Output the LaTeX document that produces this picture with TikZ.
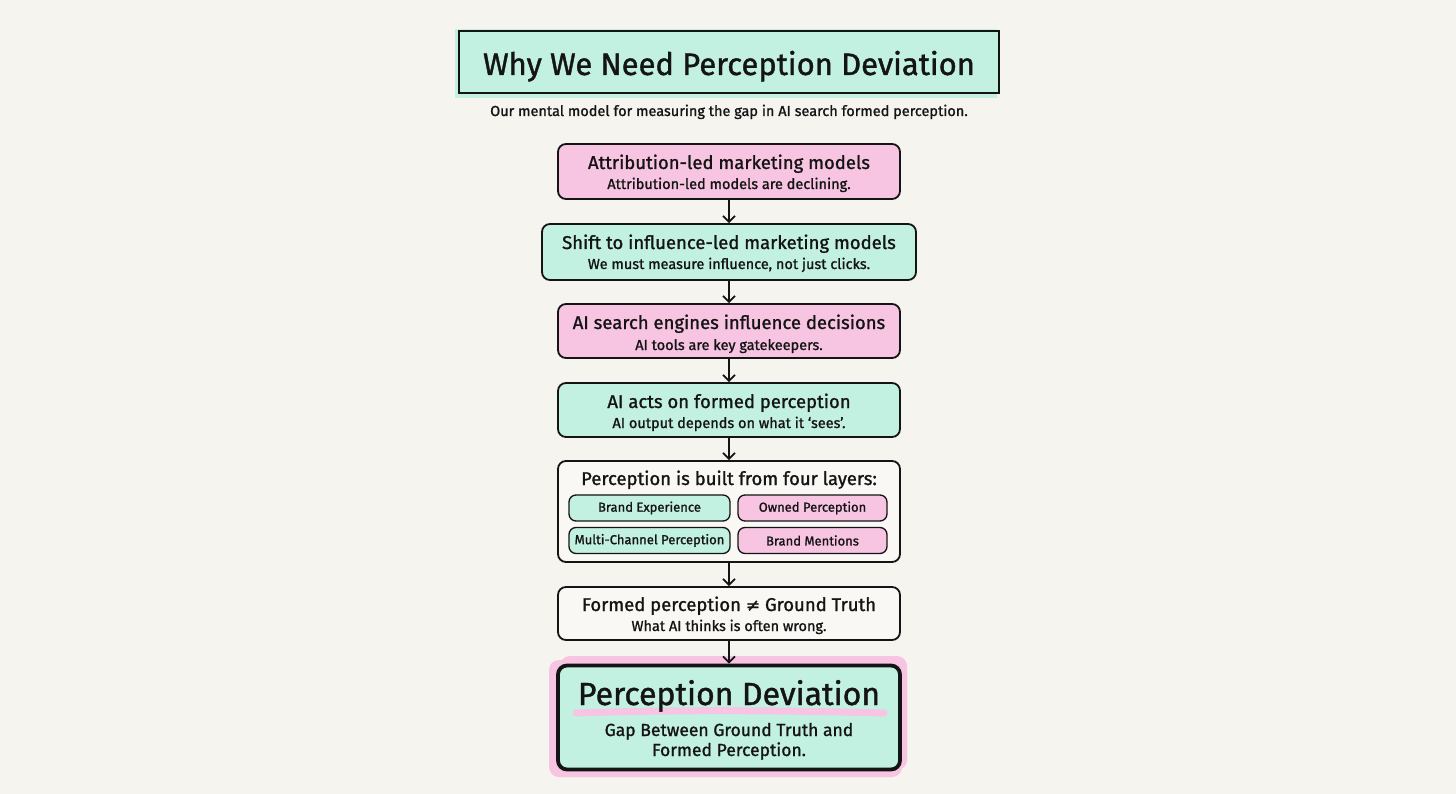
\documentclass[tikz,border=0pt]{standalone}
\usepackage{fontspec}
\setmainfont{Fira Sans}[FakeBold=1.2]
\newfontfamily\symfont{DejaVu Sans}[FakeBold=1.2]
\usetikzlibrary{arrows.meta}
\definecolor{bg}{HTML}{F5F4EF}
\definecolor{mint}{HTML}{C2F0E1}
\definecolor{pinkc}{HTML}{F7C4E2}
\definecolor{ink}{HTML}{141414}
\begin{document}
\begin{tikzpicture}[x=1pt,y=-1pt,
  box/.style={draw=ink, line width=1.8pt, rounded corners=8pt, inner sep=0pt},
  small/.style={draw=ink, line width=1.3pt, rounded corners=7pt, inner sep=0pt, minimum height=26pt,
     font=\fontsize{13}{15}\selectfont, text=ink},
  arr/.style={draw=ink, line width=1.7pt, -{Straight Barb[length=6pt,width=12pt,line width=1.7pt]}},
  head/.style={font=\fontsize{18.5}{22}\selectfont, text=ink, anchor=base, inner sep=0pt},
  sub/.style={font=\fontsize{14.5}{17}\selectfont, text=ink, anchor=base, inner sep=0pt},
]
\fill[bg] (0,0) rectangle (1456,794);
\useasboundingbox (0,0) rectangle (1456,794);

% title
\fill[mint] (455,29) rectangle (997,98);
\node[draw=ink, line width=1.8pt, fill=mint, minimum width=540pt, minimum height=62pt, inner sep=0pt] (title) at (729,62) {};
\node[font=\fontsize{31}{36}\selectfont, text=ink, anchor=base, inner sep=0pt] (titletext) at (729,75) {Why We Need Perception Deviation};
\node[font=\fontsize{14.5}{16}\selectfont, text=ink, anchor=base, inner sep=0pt] (subtitle) at (729,116) {Our mental model for measuring the gap in AI search formed perception.};

% box 1
\node[box, fill=pinkc, minimum width=342pt, minimum height=55pt] (b1) at (729,171.5) {};
\node[head] (b1h) at (729,169) {Attribution-led marketing models};
\node[sub] (b1s) at (729,189) {Attribution-led models are declining.};

% box 2
\node[box, fill=mint, minimum width=374pt, minimum height=56pt] (b2) at (729,252) {};
\node[head] (b2h) at (729,249) {Shift to influence-led marketing models};
\node[sub] (b2s) at (729,269) {We must measure influence, not just clicks.};

% box 3
\node[box, fill=pinkc, minimum width=342pt, minimum height=54pt] (b3) at (729,331) {};
\node[head] (b3h) at (729,329) {AI search engines influence decisions};
\node[sub] (b3s) at (729,350) {AI tools are key gatekeepers.};

% box 4
\node[box, fill=mint, minimum width=342pt, minimum height=54pt] (b4) at (729,410) {};
\node[head] (b4h) at (729,408) {AI acts on formed perception};
\node[sub] (b4s) at (729,428) {AI output depends on what it `sees'.};

% box 5
\node[box, fill=bg!60!white, minimum width=342pt, minimum height=101pt] (b5) at (729,511.5) {};
\node[head] (b5h) at (729,485) {Perception is built from four layers:};
\node[small, fill=mint, minimum width=161pt] (l1) at (649.5,508) {Brand Experience};
\node[small, fill=pinkc, minimum width=149pt] (l2) at (812.5,508) {Owned Perception};
\node[small, fill=mint, minimum width=161pt] (l3) at (649.5,540.5) {Multi-Channel Perception};
\node[small, fill=pinkc, minimum width=149pt] (l4) at (812.5,540.5) {Brand Mentions};

% box 6
\node[box, fill=bg!60!white, minimum width=342pt, minimum height=53pt] (b6) at (729,613.5) {};
\node[head] (b6h) at (729,611) {Formed perception {\symfont\fontsize{17}{20}\selectfont ≠} Ground Truth};
\node[sub] (b6s) at (729,631) {What AI thinks is often wrong.};

% box 7
\fill[pinkc, rounded corners=10pt] (549,660) rectangle (902,777);
\fill[pinkc, rounded corners=10pt] (560,656) rectangle (907,770);
\node[draw=ink, line width=3.8pt, rounded corners=9pt, fill=mint, minimum width=342pt, minimum height=104pt, inner sep=0pt] (b7) at (729,717.5) {};
\draw[pinkc, line width=7pt, line cap=round] (576,713) .. controls (700,709) and (800,711) .. (884,713);
\node[font=\fontsize{32}{38}\selectfont, text=ink, anchor=base, inner sep=0pt] (b7h) at (729,705) {Perception Deviation};
\node[font=\fontsize{17.5}{20}\selectfont, text=ink, anchor=base, inner sep=0pt] (b7s1) at (729,736) {Gap Between Ground Truth and};
\node[font=\fontsize{17.5}{20}\selectfont, text=ink, anchor=base, inner sep=0pt] (b7s2) at (729,756) {Formed Perception.};

% arrows
\draw[arr] (b1.south) -- (b2.north);
\draw[arr] (b2.south) -- (b3.north);
\draw[arr] (b3.south) -- (b4.north);
\draw[arr] (b4.south) -- (b5.north);
\draw[arr] (b5.south) -- (b6.north);
\draw[arr] (b6.south) -- (b7.north);
\end{tikzpicture}
\end{document}
